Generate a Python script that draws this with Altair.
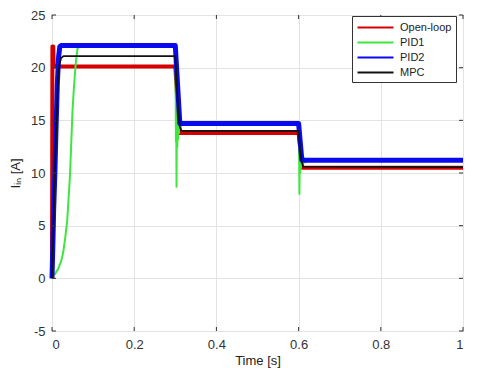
import altair as alt
import pandas as pd

# ---- data ----
series_names = ["Open-loop", "PID1", "PID2", "MPC"]
series_colors = ["#d40000", "#3ee63e", "#0a0aee", "#111111"]

t_open = [0, 0.001, 0.003, 0.004, 0.006, 0.3, 0.31, 0.6, 0.609, 1.0]
v_open = [0, 22, 22, 20.4, 20.1, 20.1, 13.8, 13.8, 10.5, 10.5]

t_pid1 = [0, 0.007, 0.015, 0.022, 0.027, 0.032, 0.037, 0.041, 0.044, 0.047, 0.05, 0.054, 0.058, 0.062, 0.066,
          0.3, 0.301, 0.3015, 0.302, 0.303, 0.304, 0.305, 0.306, 0.307, 0.308, 0.309, 0.311, 0.313, 0.315, 0.318,
          0.6, 0.601, 0.602, 0.603, 0.604, 0.605, 0.606, 0.608, 0.61, 0.612, 0.615, 0.62, 1.0]
v_pid1 = [0.2, 0.4, 0.9, 1.6, 2.4, 3.8, 5.5, 8.0, 10.0, 13.0, 16.0, 18.5, 20.5, 21.8, 22.0,
          22.0, 17.0, 13.0, 16.8, 8.7, 16.2, 12.5, 15.8, 13.2, 15.4, 13.8, 15.0, 14.2, 14.8, 14.6,
          14.7, 12.9, 8.0, 12.5, 10.0, 12.2, 10.5, 11.8, 10.8, 11.5, 11.0, 11.2, 11.2]

t_pid2 = [0, 0.002, 0.004, 0.007, 0.01, 0.013, 0.016, 0.019, 0.022, 0.3, 0.311, 0.6, 0.608, 1.0]
v_pid2 = [0, 3.0, 6.5, 10.0, 14.5, 18.5, 21.0, 22.0, 22.1, 22.1, 14.7, 14.7, 11.2, 11.2]

t_mpc = [0, 0.003, 0.006, 0.009, 0.012, 0.015, 0.018, 0.022, 0.028, 0.3, 0.303, 0.307, 0.311, 0.315,
         0.6, 0.603, 0.607, 0.611, 1.0]
v_mpc = [0, 4.0, 8.5, 12.5, 16.0, 19.0, 20.3, 20.9, 21.1, 21.1, 19.0, 16.0, 14.4, 14.0,
         14.0, 12.5, 11.2, 10.6, 10.55]

x_ticks = [0, 0.2, 0.4, 0.6, 0.8, 1.0]
y_ticks = [-5, 0, 5, 10, 15, 20, 25]

rows = []
for name, ts, vs in [("Open-loop", t_open, v_open), ("PID1", t_pid1, v_pid1),
                     ("PID2", t_pid2, v_pid2), ("MPC", t_mpc, v_mpc)]:
    for t, v in zip(ts, vs):
        rows.append({"series": name, "t": t, "v": v})
df = pd.DataFrame(rows)

xt = pd.DataFrame({"tick": x_ticks})
yt = pd.DataFrame({"tick": y_ticks})

FONT = "Liberation Sans"
W, H = 411, 316

xscale = alt.Scale(domain=[0, 1], nice=False, zero=False)
yscale = alt.Scale(domain=[-5, 25], nice=False, zero=False)
color = alt.Color("series:N",
                  scale=alt.Scale(domain=series_names, range=series_colors),
                  legend=alt.Legend(title=None, orient="none", legendX=300, legendY=1,
                                    symbolType="M-1,0H5", symbolSize=144, symbolStrokeWidth=2.2,
                                    labelOffset=29, labelFont=FONT, labelFontSize=11,
                                    labelColor="#222222", rowPadding=2,
                                    strokeColor="#333333", fillColor="white", padding=4,
                                    offset=0))

base = alt.Chart(df).encode(
    x=alt.X("t:Q", scale=xscale,
            axis=alt.Axis(values=x_ticks, labelExpr="'' + datum.value", title="Time [s]", grid=True)),
    y=alt.Y("v:Q", scale=yscale,
            axis=alt.Axis(values=y_ticks, labelExpr="'' + datum.value", title="Iᵢₙ [A]", grid=True)),
    color=color,
    order=alt.Order("t:Q"),
)

widths = {"Open-loop": 4, "PID1": 2, "PID2": 5, "MPC": 1.8}
layers = []
for name in ["Open-loop", "PID1", "PID2", "MPC"]:
    layers.append(base.transform_filter(alt.datum.series == name)
                  .mark_line(strokeWidth=widths[name], strokeJoin="round"))

tick_col = "#333333"
tb = alt.Chart(xt).mark_rule(color=tick_col, strokeWidth=1).encode(
    x=alt.X("tick:Q", scale=xscale), y=alt.value(H), y2=alt.value(H - 4))
tt = alt.Chart(xt).mark_rule(color=tick_col, strokeWidth=1).encode(
    x=alt.X("tick:Q", scale=xscale), y=alt.value(0), y2=alt.value(4))
tl = alt.Chart(yt).mark_rule(color=tick_col, strokeWidth=1).encode(
    y=alt.Y("tick:Q", scale=yscale), x=alt.value(0), x2=alt.value(4))
tr = alt.Chart(yt).mark_rule(color=tick_col, strokeWidth=1).encode(
    y=alt.Y("tick:Q", scale=yscale), x=alt.value(W), x2=alt.value(W - 4))

chart = alt.layer(*layers, tb, tt, tl, tr).properties(
    width=W, height=H,
    autosize=alt.AutoSizeParams(type="none"),
    padding={"left": 44, "top": 7, "right": 9, "bottom": 38},
).configure_view(
    stroke="#333333", strokeWidth=1
).configure_axis(
    labelFont=FONT, labelFontSize=13, labelColor="#333333", labelPadding=7,
    titleFont=FONT, titleFontSize=13, titleColor="#222222", titleFontWeight="normal",
    ticks=False, domain=False, gridColor="#e3e3e3", gridWidth=1,
).configure_axisX(titlePadding=3).configure_axisY(titlePadding=8)

chart.save("out.html", embed_options={"renderer": "svg", "actions": False})
